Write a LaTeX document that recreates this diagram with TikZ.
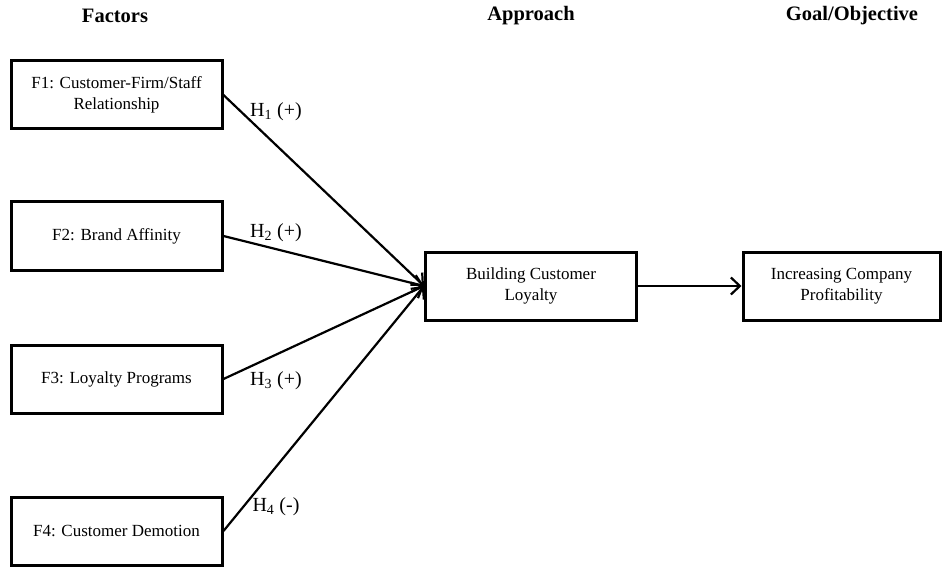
\documentclass[tikz,border=0pt]{standalone}
\usepackage{fontspec}
\setmainfont{Liberation Serif}
\usetikzlibrary{arrows.meta}
\begin{document}
\begin{tikzpicture}[x=1pt,y=-1pt,
  box/.style={draw,line width=3pt,minimum width=211pt,minimum height=68pt,align=center,font=\fontsize{17}{21.5}\selectfont,inner sep=0pt},
  title/.style={font=\fontsize{20.5}{24}\selectfont\bfseries},
  hlab/.style={font=\fontsize{20}{24}\selectfont},
  conn/.style={line width=2.2pt},
  arr/.style={conn,-{Straight Barb[length=9pt,width=17pt,line width=2.2pt]}}]
\useasboundingbox (0,0) rectangle (943,567);
\node[title] (tf) at (115,16) {Factors};
\node[title] (ta) at (531,16) {Approach};
\node[title] (tg) at (852,16) {Goal/Objective};
\node[box] (f1) at (116.5,95) {F1: Customer-Firm/Staff\\Relationship};
\node[box] (f2) at (116.5,236) {F2: Brand Affinity};
\node[box] (f3) at (116.5,379) {F3: Loyalty Programs};
\node[box] (f4) at (116.5,531) {F4: Customer Demotion};
\node[box] (bl) at (531,286) {Building Customer\\Loyalty};
\node[box,minimum width=197pt] (ip) at (841.5,286) {Increasing Company\\Profitability};
\draw[arr] (f1.east) -- (bl.west);
\draw[arr] (f2.east) -- (bl.west);
\draw[arr] (f3.east) -- (bl.west);
\draw[arr] (f4.east) -- (bl.west);
\draw[arr] (bl.east) -- (ip.west);
\node[hlab] (h1) at (276,112) {H\textsubscript{1} (+)};
\node[hlab] (h2) at (276,233) {H\textsubscript{2} (+)};
\node[hlab] (h3) at (276,381) {H\textsubscript{3} (+)};
\node[hlab] (h4) at (276,507) {H\textsubscript{4} (-)};
\end{tikzpicture}
\end{document}
